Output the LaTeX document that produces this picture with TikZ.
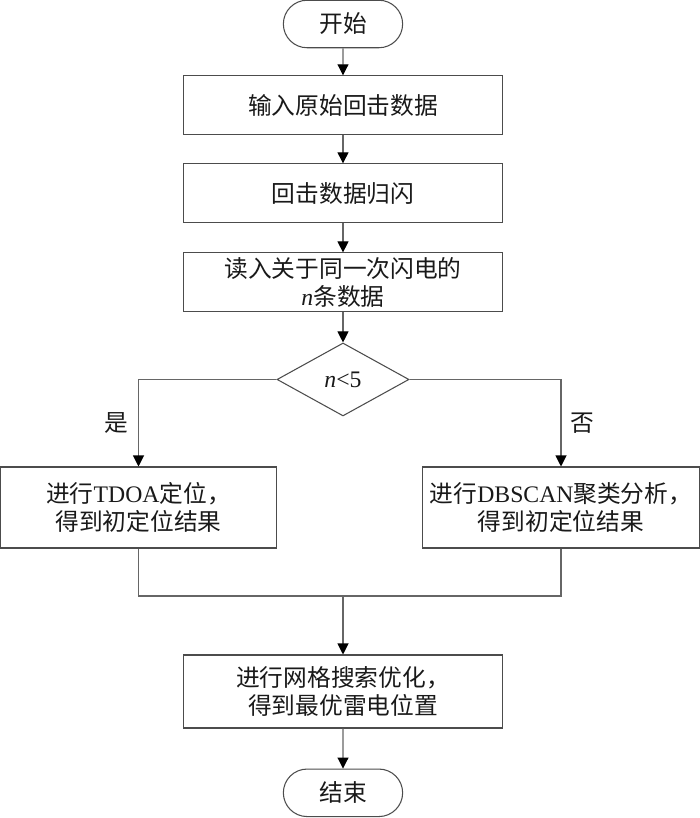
\documentclass[tikz,border=0pt]{standalone}
\usepackage{fontspec}
\setmainfont{Noto Sans CJK SC}
\newfontfamily\latin{Liberation Serif}
\usetikzlibrary{arrows.meta,shapes.geometric,shapes.misc,positioning}

\begin{document}
\begin{tikzpicture}[
	basic/.style  = {draw=black!70, line width=0.6pt, align=center, inner ysep=1pt, text=black!90, font=\fontsize{13.5}{16}\selectfont},
	term/.style   = {basic, rounded rectangle, minimum width=2.62cm, minimum height=0.95cm},
	proc/.style   = {basic, rectangle, minimum width=6.38cm, minimum height=1.18cm},
	bigproc/.style = {proc, minimum height=1.46cm},
	side/.style   = {basic, rectangle, minimum width=5.53cm, minimum height=1.62cm},
	decide/.style = {basic, diamond, aspect=1.8, inner sep=0pt, minimum width=2.64cm, minimum height=1.46cm},
	line/.style   = {draw=black!60, line width=0.6pt},
	arr/.style    = {line, -{Triangle[width=0.22cm,length=0.22cm,color=black]}},
	lbl/.style    = {text=black!90, font=\fontsize{13.5}{16}\selectfont},
	node distance=0.56cm]

	\useasboundingbox (0,0) rectangle (14,-16.36);

	% main column, relatively positioned nodes
	\node[term] (start) at (6.86,-0.48) {开始};
	\node[proc, below=0.54cm of start] (read) {输入原始回击数据};
	\node[proc, below=0.56cm of read] (group) {回击数据归闪};
	\node[proc, below=0.58cm of group] (load) {读入关于同一次闪电的\\{\latin\itshape n}条数据};
	\node[decide, below=0.6cm of load] (test) {{\latin\itshape n}{\latin <5}};

	% the two branches
	\node[side] (tdoa) at (2.77,-10.15) {进行{\latin TDOA}定位，\\得到初定位结果};
	\node[side] (dbscan) at (11.22,-10.15) {进行{\latin DBSCAN}聚类分析，\\得到初定位结果};

	% joining point and the last steps
	\coordinate (join) at (6.86,-11.92);
	\node[bigproc] (grid) at (6.86,-13.83) {进行网格搜索优化，\\得到最优雷电位置};
	\node[term, below=0.8cm of grid] (stop) {结束};

	% connectors
	\draw[arr] (start) -- (read);
	\draw[arr] (read) -- (group);
	\draw[arr] (group) -- (load);
	\draw[arr] (load) -- (test);
	\draw[arr] (test.west) -| node[lbl, pos=0.75, left, xshift=-2pt] (yes) {是} (tdoa);
	\draw[arr] (test.east) -| node[lbl, pos=0.75, right, xshift=2pt] (no) {否} (dbscan);
	\draw[line] (tdoa) |- (join);
	\draw[line] (dbscan) |- (join);
	\draw[arr] (join) -- (grid);
	\draw[arr] (grid) -- (stop);

\end{tikzpicture}
\end{document}
